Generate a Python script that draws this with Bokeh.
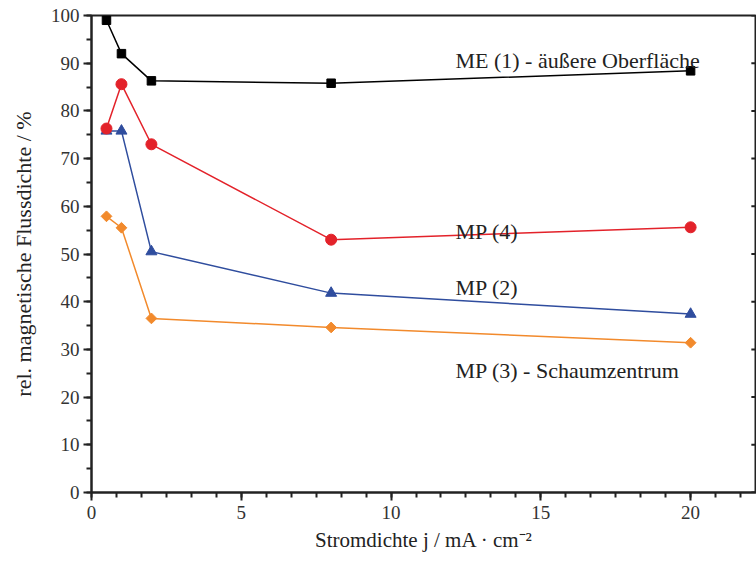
import numpy as np
from bokeh.plotting import figure
from bokeh.models import LinearAxis, SingleIntervalTicker, Range1d, Label
from bokeh.embed import file_html
from bokeh.resources import INLINE

# ---- data ----
current_density = [0.5, 1, 2, 8, 20]
me1_outer = [99.0, 92.0, 86.3, 85.8, 88.4]
mp4 = [76.3, 85.6, 73.0, 53.0, 55.6]
mp2 = [75.8, 75.8, 50.5, 41.8, 37.4]
mp3_center = [57.9, 55.5, 36.5, 34.6, 31.4]

series_labels = ["ME (1) - äußere Oberfläche", "MP (4)", "MP (2)", "MP (3) - Schaumzentrum"]
x_title = "Stromdichte j / mA · cm⁻²"
y_title = "rel. magnetische Flussdichte / %"

X_MAX = 22.2
Y_MAX = 100

FONT = "'Liberation Serif', 'Times New Roman', serif"
INK = "#222222"
BLACK = "#000000"
RED = "#e3222a"
BLUE = "#2f4d9e"
ORANGE = "#f28a2c"

p = figure(width=756, height=562, output_backend="svg", toolbar_location=None,
           x_range=Range1d(0, X_MAX), y_range=Range1d(0, Y_MAX),
           x_axis_location=None, y_axis_location=None,
           min_border_left=91, min_border_right=0, min_border_top=15, min_border_bottom=70)
p.outline_line_color = INK
p.outline_line_width = 2
p.xgrid.visible = False
p.ygrid.visible = False
p.background_fill_color = "white"
p.border_fill_color = "white"


def style(ax):
    ax.axis_line_width = 2
    ax.major_tick_line_width = 2
    ax.minor_tick_line_width = 2
    ax.axis_line_color = INK
    ax.major_tick_line_color = INK
    ax.minor_tick_line_color = INK
    ax.major_tick_in = 0
    ax.major_tick_out = 8
    ax.minor_tick_in = 0
    ax.minor_tick_out = 5
    ax.major_label_text_font = FONT
    ax.major_label_text_font_size = "19px"
    ax.major_label_text_color = "#333333"
    ax.axis_label_text_font = FONT
    ax.axis_label_text_font_style = "normal"
    ax.axis_label_text_color = INK


bottom = LinearAxis(ticker=SingleIntervalTicker(interval=5, num_minor_ticks=6), axis_label=x_title)
style(bottom)
bottom.major_label_standoff = 5
bottom.axis_label_text_font_size = "21px"
bottom.axis_label_standoff = 6
p.add_layout(bottom, "below")

left = LinearAxis(ticker=SingleIntervalTicker(interval=10, num_minor_ticks=2), axis_label=y_title)
style(left)
left.major_label_standoff = 4
left.axis_label_text_font_size = "22px"
left.axis_label_standoff = 12
p.add_layout(left, "left")

# inward mirror ticks on the top and right frame edges
edge_top = Y_MAX - 0.02
top_major = np.arange(0, X_MAX, 5)
top_minor = np.setdiff1d(np.round(np.arange(0, X_MAX, 5 / 6), 4), top_major)
right_major = np.arange(0, Y_MAX + 1, 10)
p.ray(x=top_major, y=[edge_top] * len(top_major), length=9, length_units="screen",
      angle=np.pi / 2, line_color=INK, line_width=2)
p.ray(x=top_minor, y=[edge_top] * len(top_minor), length=5, length_units="screen",
      angle=np.pi / 2, line_color=INK, line_width=2)
p.ray(x=[X_MAX - 0.005] * len(right_major), y=right_major, length=5, length_units="screen",
      angle=np.pi, line_color=INK, line_width=2)

# ---- series ----
p.line(current_density, me1_outer, color=BLACK, line_width=1.5)
p.scatter(current_density, me1_outer, marker="square", size=8.5, color=BLACK)

p.line(current_density, mp3_center, color=ORANGE, line_width=1.5)
p.scatter(current_density, mp3_center, marker="square", angle=np.pi / 4, size=7.6, color=ORANGE)

p.line(current_density, mp2, color=BLUE, line_width=1.5)
p.scatter(current_density, mp2, marker="triangle", size=11, color=BLUE)

p.line(current_density, mp4, color=RED, line_width=1.5)
p.scatter(current_density, mp4, marker="circle", size=11, color=RED)

# ---- series annotations ----
label_x = 12.15
label_y = [90.6, 54.7, 43.0, 25.5]
for txt, yy in zip(series_labels, label_y):
    p.add_layout(Label(x=label_x, y=yy, text=txt, text_font=FONT, text_font_size="22px",
                       text_color=INK, text_baseline="alphabetic"))

open("out.html", "w").write(file_html(p, INLINE))
